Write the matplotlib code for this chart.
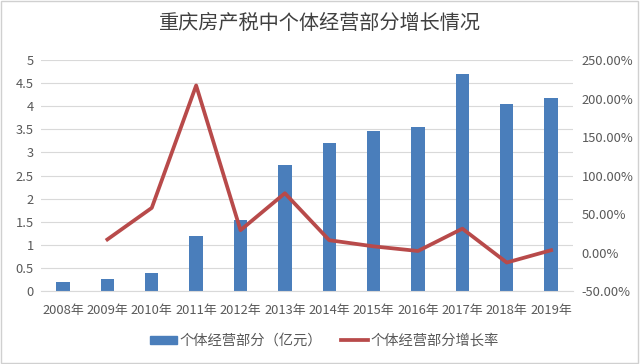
import matplotlib
matplotlib.use('Agg')
import matplotlib.pyplot as plt
import numpy as np
from matplotlib.patches import Rectangle
from matplotlib.lines import Line2D
from matplotlib.ticker import FuncFormatter

plt.rcParams['font.family'] = ['Noto Sans CJK SC', 'DejaVu Sans']

years = ['2008年', '2009年', '2010年', '2011年', '2012年', '2013年',
         '2014年', '2015年', '2016年', '2017年', '2018年', '2019年']
amount = [0.20, 0.25, 0.38, 1.20, 1.53, 2.72, 3.20, 3.47, 3.56, 4.70, 4.04, 4.17]
growth = [np.nan, 17, 58, 217, 29, 77, 16, 8, 2, 31, -13, 3]

bar_color = '#4a7ebb'
line_color = '#b84a4a'
text_color = '#595959'

fig = plt.figure(figsize=(6.4, 3.64), dpi=100)
fig.patches.append(Rectangle((0.002, 0.003), 0.995, 0.993, transform=fig.transFigure,
                             fill=False, edgecolor='#d0d0d0', linewidth=1))

ax = fig.add_axes([0.0638, 0.2005, 0.832, 0.6345])
x = np.arange(len(years))
ax.bar(x, amount, width=0.3, color=bar_color, zorder=2)
ax.set_xlim(-0.5, len(years) - 0.5)
ax.set_ylim(0, 5)
ax.set_yticks(np.arange(0, 5.01, 0.5))
ax.set_yticklabels(['0', '0.5', '1', '1.5', '2', '2.5', '3', '3.5', '4', '4.5', '5'])
ax.set_xticks(x)
ax.set_xticklabels(years)
ax.grid(axis='y', color='#d9d9d9', linewidth=0.8, zorder=0)
for s in ax.spines.values():
    s.set_visible(False)
ax.spines['bottom'].set_visible(True)
ax.spines['bottom'].set_color('#d9d9d9')
ax.tick_params(length=0, labelsize=9.3, colors=text_color, pad=5)
ax.tick_params(axis='x', pad=9)

ax2 = ax.twinx()
ax2.plot(x, growth, color=line_color, linewidth=2.7, zorder=3)
ax2.set_ylim(-50, 250)
ax2.set_yticks(np.arange(-50, 251, 50))
ax2.yaxis.set_major_formatter(FuncFormatter(lambda v, p: f'{v:.2f}%'))
for s in ax2.spines.values():
    s.set_visible(False)
ax2.tick_params(length=0, labelsize=9.3, colors=text_color, pad=6)

fig.text(0.5, 0.935, '重庆房产税中个体经营部分增长情况', ha='center', va='center',
         fontsize=14.5, color='#404040')

handles = [Rectangle((0, 0), 1, 1, color=bar_color),
           Line2D([0], [0], color=line_color, linewidth=2.7)]
fig.legend(handles, ['个体经营部分（亿元）', '个体经营部分增长率'], loc='center',
           bbox_to_anchor=(0.507, 0.063), ncol=2, frameon=False, fontsize=10.3,
           labelcolor=text_color, handlelength=1.9, handleheight=0.5,
           handletextpad=0.2, columnspacing=1.3)

fig.savefig('out.png', dpi=100)
